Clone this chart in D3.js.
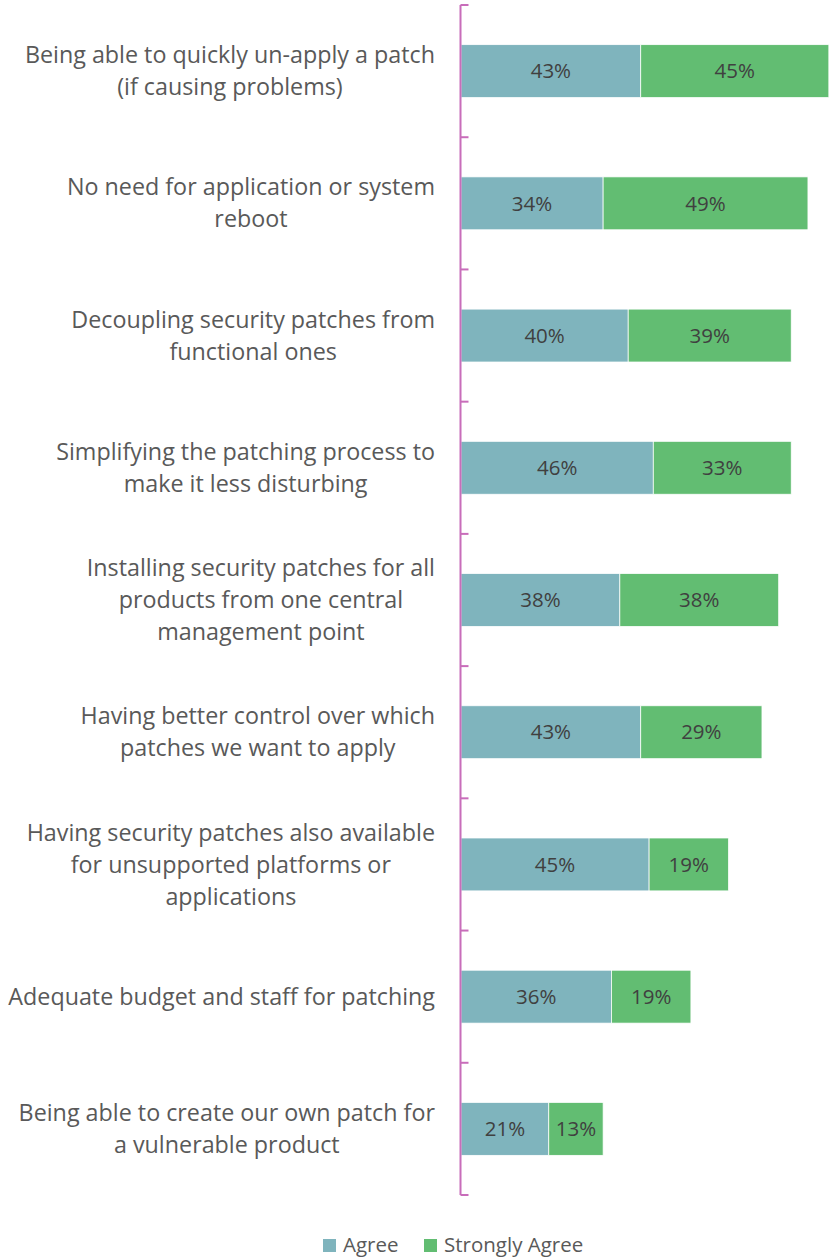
<!DOCTYPE html>
<html>
<head>
<meta charset="utf-8">
<script src="https://cdn.jsdelivr.net/npm/d3@7"></script>
<style>
  body { margin: 0; background: #fff; }
  svg { display: block; }
</style>
</head>
<body>
<section></section>
<script>
// labels already split into lines like the original
const categories = [
    "Being able to quickly un-apply a patch|(if causing problems)",
    "No need for application or system|reboot",
    "Decoupling security patches from|functional ones",
    "Simplifying the patching process to|make it less disturbing",
    "Installing security patches for all|products from one central|management point",
    "Having better control over which|patches we want to apply",
    "Having security patches also available|for unsupported platforms or|applications",
    "Adequate budget and staff for patching",
    "Being able to create our own patch for|a vulnerable product"
];
const agree = [43, 34, 40, 46, 38, 43, 45, 36, 21];
const stronglyAgree = [45, 49, 39, 33, 38, 29, 19, 19, 13];
const seriesNames = ["Agree", "Strongly Agree"];
const colors = ["#7fb4bd", "#62bd72"];

const width = 829, height = 1258;
const axisX = 460.5;

const svg = d3.select("section").append("svg")
    .attr("width", width)
    .attr("height", height)
    .style("font-family", "'Open Sans', sans-serif");

const y = d3.scaleBand()
    .domain(categories)
    .range([5, 1195])
    .paddingInner(0.6)
    .paddingOuter(0.3);

const x = d3.scaleLinear().domain([0, 100]).range([461, 879]);

const rows = categories.map((c, i) => ({ cat: c, a: agree[i], s: stronglyAgree[i] }));

// bars
const g = svg.append("g");
rows.forEach(d => {
    const parts = [[0, d.a], [d.a, d.a + d.s]];
    parts.forEach(([x0, x1], k) => {
        g.append("rect")
            .attr("x", x(x0))
            .attr("y", y(d.cat))
            .attr("width", x(x1) - x(x0))
            .attr("height", y.bandwidth())
            .attr("fill", colors[k])
            .attr("stroke", "#fff")
            .attr("stroke-width", 0.75);
        g.append("text")
            .attr("x", (x(x0) + x(x1)) / 2)
            .attr("y", y(d.cat) + y.bandwidth() / 2)
            .attr("dy", "0.35em")
            .attr("text-anchor", "middle")
            .attr("font-size", 20.5)
            .attr("fill", "#404040")
            .text((k === 0 ? d.a : d.s) + "%");
    });
});

// axis line with ticks at band boundaries
const ticks = d3.range(categories.length + 1).map(i => 5 + i * (1190 / categories.length));
svg.append("line")
    .attr("x1", axisX).attr("x2", axisX)
    .attr("y1", 5).attr("y2", 1195)
    .attr("stroke", "#c86dba").attr("stroke-width", 2);
svg.selectAll(".tick").data(ticks).enter().append("line")
    .attr("x1", axisX).attr("x2", axisX + 8)
    .attr("y1", d => d).attr("y2", d => d)
    .attr("stroke", "#c86dba").attr("stroke-width", 2);

// category labels: centred block, widest line ends at 435
rows.forEach(d => {
    const lines = d.cat.split("|");
    const cy = y(d.cat) + y.bandwidth() / 2;
    const lh = 32;
    const t = svg.append("text")
        .attr("text-anchor", "middle")
        .attr("font-size", 23.3)
        .attr("fill", "#595959");
    const spans = lines.map((ln, j) => t.append("tspan")
        .attr("y", cy + (j - (lines.length - 1) / 2) * lh)
        .attr("dy", "0.35em")
        .text(ln));
    const maxW = d3.max(spans, s => s.node().getComputedTextLength());
    spans.forEach(s => s.attr("x", 435 - maxW / 2));
});

// legend
const legendX = [323, 424];
seriesNames.forEach((n, i) => {
    svg.append("rect")
        .attr("x", legendX[i]).attr("y", 1239)
        .attr("width", 13).attr("height", 13)
        .attr("fill", colors[i]);
    svg.append("text")
        .attr("x", legendX[i] + 20).attr("y", 1245)
        .attr("dy", "0.35em")
        .attr("font-size", 20.5)
        .attr("fill", "#595959")
        .text(n);
});
</script>
</body>
</html>
